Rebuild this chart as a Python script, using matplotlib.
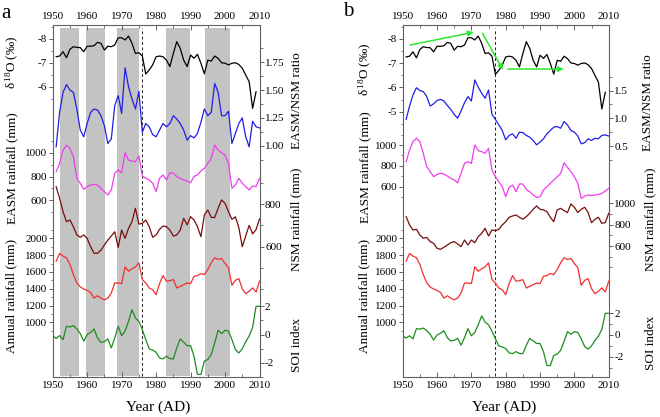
import matplotlib
matplotlib.use('Agg')
import matplotlib.pyplot as plt

plt.rcParams['font.family'] = ['Liberation Serif', 'DejaVu Serif']
plt.rcParams['mathtext.fontset'] = 'stix'

# ---------------- data ----------------
years = list(range(1951, 2011))
years_d18o = list(range(1951, 2010))
years_soi = list(range(1950, 2011))

d18o = [-7.26, -7.29, -7.47, -7.22, -7.57, -7.68, -7.65, -7.64, -7.47, -7.70,
        -7.70, -7.72, -7.86, -7.82, -7.54, -7.70, -7.68, -7.75, -8.05, -8.05,
        -7.96, -8.12, -7.82, -7.40, -7.43, -7.29, -6.54, -6.71, -6.92, -7.26,
        -7.29, -7.26, -7.12, -6.85, -7.40, -7.89, -7.61, -7.12, -6.85, -7.33,
        -7.20, -7.36, -6.99, -6.55, -7.12, -7.08, -7.29, -7.19, -7.01, -6.99,
        -6.92, -6.99, -7.01, -6.94, -6.78, -6.50, -6.22, -5.11, -5.80]

ratio_a = [0.99, 1.30, 1.48, 1.55, 1.50, 1.48, 1.33, 1.14, 1.08, 1.20,
           1.30, 1.33, 1.32, 1.27, 1.18, 1.02, 1.06, 1.36, 1.45, 1.29,
           1.70, 1.53, 1.42, 1.33, 1.49, 1.12, 1.20, 1.17, 1.10, 1.08,
           1.14, 1.20, 1.17, 1.20, 1.27, 1.24, 1.20, 1.14, 1.05, 1.09,
           1.07, 1.11, 1.21, 1.33, 1.27, 1.30, 1.56, 1.48, 1.27, 1.27,
           1.31, 1.02, 1.11, 1.20, 1.25, 1.08, 0.99, 1.22, 1.17, 1.16]

easm_a = [840, 910, 1022, 1064, 1036, 966, 785, 743, 692, 715,
          729, 734, 729, 700, 673, 645, 687, 827, 855, 832,
          1000, 938, 930, 924, 972, 804, 785, 771, 743, 673,
          785, 813, 771, 832, 827, 800, 785, 771, 760, 748,
          800, 813, 846, 868, 910, 952, 1064, 1022, 1000, 980,
          910, 700, 729, 785, 743, 715, 687, 720, 715, 785]

nsm_a = [881, 827, 764, 717, 725, 694, 655, 644, 655, 639,
         600, 569, 569, 584, 608, 631, 650, 670, 597, 678,
         639, 686, 717, 780, 706, 709, 725, 694, 644, 655,
         681, 697, 694, 678, 650, 655, 678, 733, 702, 741,
         725, 694, 647, 748, 772, 737, 737, 780, 819, 803,
         764, 728, 740, 690, 600, 650, 700, 660, 680, 730]

annual = [1728, 1820, 1788, 1768, 1688, 1568, 1470, 1420, 1396, 1380,
          1356, 1288, 1316, 1288, 1268, 1288, 1348, 1468, 1468, 1460,
          1660, 1608, 1636, 1660, 1708, 1508, 1468, 1408, 1388, 1328,
          1460, 1556, 1488, 1496, 1508, 1408, 1428, 1448, 1468, 1460,
          1548, 1556, 1580, 1568, 1628, 1708, 1768, 1748, 1760, 1700,
          1650, 1440, 1500, 1520, 1400, 1340, 1370, 1410, 1360, 1490]

soi = [-0.07, -0.28, -0.07, -0.35, 0.59, 0.54, 0.64, 0.40, 0.07, -0.47,
       0.00, 0.16, 0.40, -0.24, -0.55, -0.50, -0.30, -0.94, -0.24, 0.59,
       -0.07, 0.24, 0.94, 1.76, 1.18, 0.94, 0.35, -0.35, -1.01, -1.10,
       -1.25, -1.65, -1.72, -1.53, -1.70, -1.72, -0.94, -0.31, -0.54, -0.78,
       -0.78, -1.53, -2.82, -2.82, -1.88, -1.76, -1.41, -0.59, 0.31, 0.07,
       0.31, 0.24, -0.35, -1.06, -1.30, -1.00, -0.50, -0.10, 0.50, 2.00, 2.00]

ratio_b = [0.98, 1.22, 1.42, 1.55, 1.50, 1.48, 1.39, 1.22, 1.26, 1.32,
           1.34, 1.31, 1.23, 1.16, 1.07, 1.00, 1.13, 1.28, 1.39, 1.31,
           1.69, 1.56, 1.45, 1.36, 1.51, 1.07, 0.98, 0.88, 0.78, 0.61,
           0.69, 0.72, 0.64, 0.75, 0.74, 0.69, 0.66, 0.60, 0.52, 0.57,
           0.63, 0.72, 0.78, 0.84, 0.85, 0.82, 0.94, 0.88, 0.78, 0.75,
           0.68, 0.54, 0.56, 0.63, 0.60, 0.64, 0.63, 0.69, 0.70, 0.68]

easm_b = [840, 952, 1032, 1064, 1032, 920, 792, 744, 696, 718,
          728, 722, 702, 680, 664, 638, 728, 824, 840, 824,
          1000, 946, 936, 920, 968, 760, 696, 648, 600, 504,
          594, 616, 552, 626, 626, 574, 552, 520, 498, 504,
          568, 600, 632, 664, 696, 728, 830, 786, 744, 696,
          632, 488, 510, 520, 517, 520, 526, 536, 558, 584]

nsm_b = [875, 797, 750, 756, 703, 672, 681, 641, 625, 578,
         569, 588, 609, 631, 641, 619, 594, 656, 609, 656,
         631, 688, 719, 766, 694, 750, 744, 756, 797, 828,
         869, 881, 891, 869, 850, 875, 906, 944, 975, 944,
         938, 922, 869, 828, 938, 953, 931, 913, 994, 963,
         913, 944, 963, 913, 819, 850, 869, 813, 819, 906]

shade_start = [1952.1, 1959.7, 1968.6, 1983.0, 1994.3]
shade_end = [1957.7, 1965.3, 1975.0, 1989.8, 2001.4]
shift_a = 1976
shift_b = 1977

arrow_start = [(1952.1, -7.75), (1973.2, -8.24), (1980.6, -6.76)]
arrow_end = [(1970.7, -8.28), (1979.2, -6.73), (1996.9, -6.76)]

# ---------------- layout helpers ----------------
W, H = 660, 417
fig = plt.figure(figsize=(6.6, 4.17), dpi=100)
SC = '#606060'
TOP, BOT = 25.3, 377.0
FS = 8


def rect(l, r):
    return [l / W, 1 - BOT / H, (r - l) / W, (BOT - TOP) / H]


def lims(v1, p1, v2, p2):
    s = (v2 - v1) / (p2 - p1)
    return v1 + (BOT - p1) * s, v1 + (TOP - p1) * s


def make_host(l, r, shade, shift):
    host = fig.add_axes(rect(l, r))
    host.set_xlim(1950, 2010)
    host.set_ylim(0, 1)
    host.set_yticks([])
    host.set_xticks(range(1950, 2011, 10))
    host.set_xticks(range(1955, 2010, 10), minor=True)
    host.tick_params(axis='x', which='both', direction='in', top=True, bottom=True,
                     labeltop=True, labelbottom=True, labelsize=FS, color=SC, pad=3)
    host.tick_params(axis='x', which='major', length=3.5, width=0.7)
    host.tick_params(axis='x', which='minor', length=2, width=0.6)
    for s in host.spines.values():
        s.set_color(SC)
        s.set_linewidth(0.8)
    lo = (BOT - 375.7) / (BOT - TOP)
    hi = (BOT - 28.3) / (BOT - TOP)
    if shade:
        for a, b in zip(shade_start, shade_end):
            host.axvspan(a, b, ymin=lo, ymax=hi, color='#c3c3c3', lw=0)
    host.axvline(shift, ymin=lo, ymax=hi, color='#222222', ls=(0, (3, 2.5)), lw=0.7)
    return host


def series(l, r, host, x, y, color, side, cal, majors, minors, fmt):
    ax = fig.add_axes(rect(l, r), sharex=host)
    ax.patch.set_visible(False)
    for s in ax.spines.values():
        s.set_visible(False)
    ax.plot(x, y, color=color, lw=0.9)
    ax.set_ylim(*lims(*cal))
    ax.set_yticks(majors)
    ax.set_yticklabels([fmt.format(v) for v in majors])
    ax.set_yticks(minors, minor=True)
    ax.yaxis.set_ticks_position(side)
    ax.tick_params(axis='y', which='both', direction='out', color=SC,
                   labelcolor='k', labelsize=FS, pad=1)
    ax.tick_params(axis='y', which='major', length=3, width=0.7)
    ax.tick_params(axis='y', which='minor', length=1.8, width=0.6)
    ax.tick_params(axis='x', which='both', bottom=False, top=False,
                   labelbottom=False, labeltop=False)
    return ax


def label(x, y, s, rot=90, size=9.5):
    fig.text(x / W, 1 - y / H, s, rotation=rot, ha='center', va='center', fontsize=size)


# ---------------- panel a ----------------
LA, RA = 52.7, 259.5
ha = make_host(LA, RA, True, shift_a)
series(LA, RA, ha, years_d18o, d18o, 'k', 'left', (-8, 39, -7, 63),
       [-8, -7, -6], [-8.5, -7.5, -6.5, -5.5], '{:g}')
series(LA, RA, ha, years, ratio_a, '#1f1fe6', 'right', (1.75, 62.3, 1.0, 145.7),
       [1.0, 1.25, 1.5, 1.75], [0.875, 1.125, 1.375, 1.625, 1.875], '{:.2f}')
series(LA, RA, ha, years, easm_a, '#f03cf0', 'left', (1000, 152.7, 600, 200.3),
       [600, 800, 1000], [500, 700, 900, 1100], '{:g}')
series(LA, RA, ha, years, nsm_a, '#7a0c0c', 'right', (800, 204, 600, 246.7),
       [600, 800], [400, 500, 700, 900], '{:g}')
series(LA, RA, ha, years, annual, '#f03030', 'left', (2000, 238.3, 1000, 322.3),
       [1000, 1200, 1400, 1600, 1800, 2000], [900, 1100, 1300, 1500, 1700, 1900, 2100], '{:g}')
series(LA, RA, ha, years_soi, soi, '#1e8c1e', 'right', (2, 306.7, -2, 363.3),
       [-2, 0, 2], [-3, -1, 1], '{:g}')

# ---------------- panel b ----------------
LB, RB = 402.7, 608.7
hb = make_host(LB, RB, False, shift_b)
axd = series(LB, RB, hb, years_d18o, d18o, 'k', 'left', (-8, 39, -5, 111.7),
             [-8, -7, -6, -5], [-8.5, -7.5, -6.5, -5.5, -4.5], '{:g}')
series(LB, RB, hb, years, ratio_b, '#1f1fe6', 'right', (1.5, 90.5, 0.5, 146),
       [0.5, 1.0, 1.5], [0.25, 0.75, 1.25, 1.75], '{:.1f}')
series(LB, RB, hb, years, easm_b, '#f03cf0', 'left', (1000, 145, 600, 186.7),
       [600, 800, 1000], [500, 700, 900, 1100], '{:g}')
series(LB, RB, hb, years, nsm_b, '#7a0c0c', 'right', (1000, 203.3, 600, 246),
       [600, 800, 1000], [400, 500, 700, 900], '{:g}')
series(LB, RB, hb, years, annual, '#f03030', 'left', (2000, 238.3, 1000, 322.3),
       [1000, 1200, 1400, 1600, 1800, 2000], [900, 1100, 1300, 1500, 1700, 1900, 2100], '{:g}')
series(LB, RB, hb, years_soi, soi, '#1e8c1e', 'right', (2, 313.3, -2, 356.7),
       [-2, 0, 2], [-3, -1, 1], '{:g}')

for s, e in zip(arrow_start, arrow_end):
    axd.annotate('', xy=e, xytext=s,
                 arrowprops=dict(arrowstyle='-|>', color='#2ee82e', lw=1.1,
                                 mutation_scale=8, shrinkA=0, shrinkB=0))

# ---------------- labels ----------------
label(6, 14, 'a', rot=0, size=15)
label(348, 12, 'b', rot=0, size=15)

d18 = r'$\mathregular{\delta^{\,18}}$O (‰)'
label(12, 62, d18)
label(12, 168, 'EASM rainfall (mm)')
label(11, 296, 'Annual rainfall (mm)')
label(297, 101, 'EASM/NSM ratio')
label(296, 219, 'NSM rainfall (mm)')
label(297, 345, 'SOI index')
label(158, 407, 'Year (AD)', rot=0, size=11)

label(365, 69, d18)
label(365, 167, 'EASM rainfall (mm)')
label(364, 296, 'Annual rainfall (mm)')
label(648, 103, 'EASM/NSM ratio')
label(650, 219, 'NSM rainfall (mm)')
label(651, 343, 'SOI index')
label(504, 407, 'Year (AD)', rot=0, size=11)

fig.savefig('out.png', dpi=100)
